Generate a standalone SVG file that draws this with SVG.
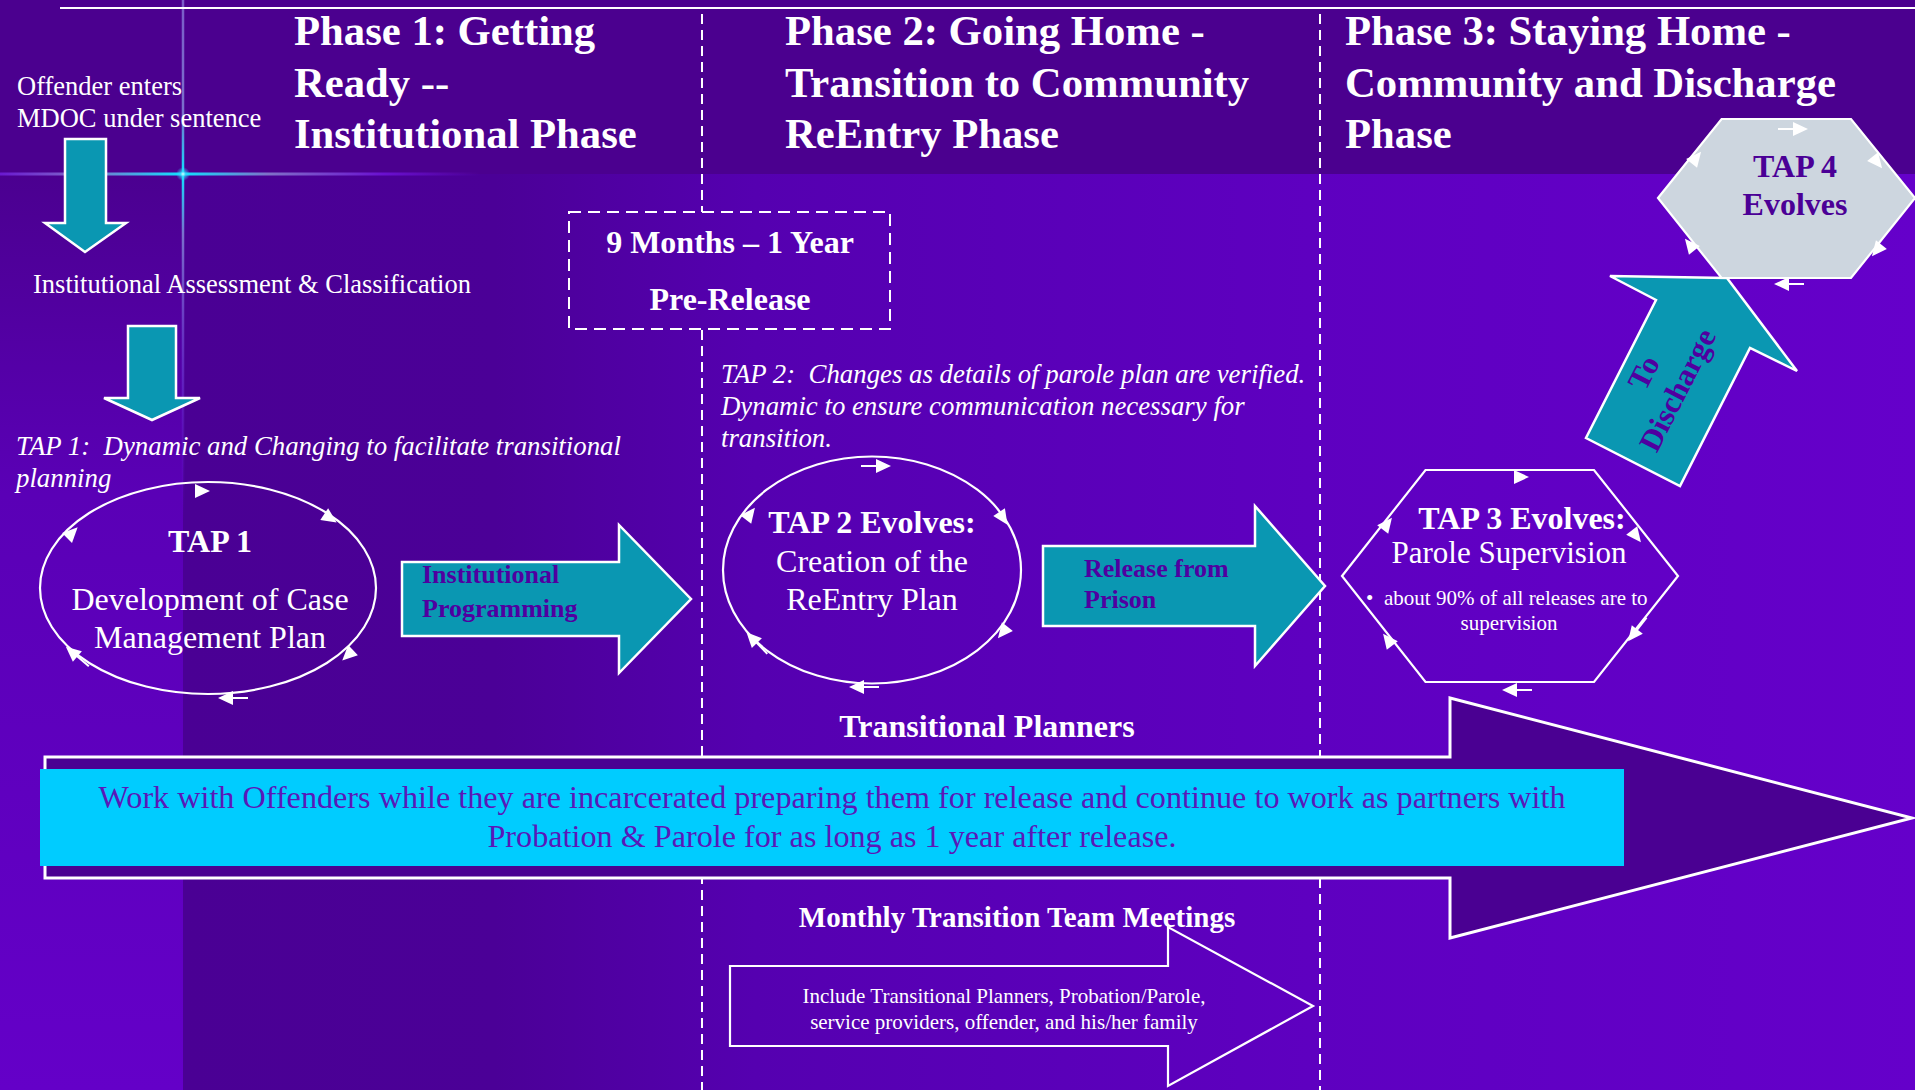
<svg xmlns="http://www.w3.org/2000/svg" xmlns:xlink="http://www.w3.org/1999/xlink" width="1915" height="1090" viewBox="0 0 1915 1090">
  <style>
    .serif { font-family: "Liberation Serif", "Times New Roman", serif; }
    .head { font-size: 42.7px; font-weight: bold; fill: #ffffff; }
    .note { font-size: 26.5px; fill: #ffffff; }
    .ital { font-size: 26.8px; font-style: italic; fill: #ffffff; }
    .ttl { font-size: 32px; font-weight: bold; fill: #ffffff; }
    .body { font-size: 32px; fill: #ffffff; }
    .lbl { font-size: 26px; font-weight: bold; fill: #5000a0; }
    .small { font-size: 21px; fill: #ffffff; }
    .teal { fill: #0a97b2; stroke: #ffffff; stroke-width: 2.5; stroke-linejoin: miter; }
    .ring { fill: none; stroke: #ffffff; stroke-width: 2.2; }
    .dash { stroke: #ffffff; stroke-width: 2; stroke-dasharray: 10 6; fill: none; }
  </style>
  <defs>
    <linearGradient id="bodyGrad" gradientUnits="userSpaceOnUse" x1="183" y1="0" x2="1915" y2="0">
      <stop offset="0" stop-color="#4a0094"/>
      <stop offset="0.18" stop-color="#4b0097"/>
      <stop offset="0.33" stop-color="#5500b0"/>
      <stop offset="0.65" stop-color="#5e00c0"/>
      <stop offset="1" stop-color="#6500ca"/>
    </linearGradient>
    <linearGradient id="stripGrad" gradientUnits="userSpaceOnUse" x1="0" y1="174" x2="0" y2="1090">
      <stop offset="0" stop-color="#4b0090"/>
      <stop offset="0.35" stop-color="#5a00b6"/>
      <stop offset="1" stop-color="#6400c8"/>
    </linearGradient>
    <linearGradient id="flareH" gradientUnits="userSpaceOnUse" x1="0" y1="0" x2="480" y2="0">
      <stop offset="0" stop-color="#6a18d0"/>
      <stop offset="0.18" stop-color="#8070c8"/>
      <stop offset="0.38" stop-color="#10e0ff"/>
      <stop offset="0.56" stop-color="#8070c8"/>
      <stop offset="0.8" stop-color="#6a10d0"/>
      <stop offset="1" stop-color="#6a10d0" stop-opacity="0"/>
    </linearGradient>
    <linearGradient id="flareV" gradientUnits="userSpaceOnUse" x1="0" y1="0" x2="0" y2="520">
      <stop offset="0" stop-color="#7a5cc8"/>
      <stop offset="0.22" stop-color="#7a70cc"/>
      <stop offset="0.335" stop-color="#10e0ff"/>
      <stop offset="0.45" stop-color="#7a70cc"/>
      <stop offset="0.75" stop-color="#6a30d0" stop-opacity="0.6"/>
      <stop offset="1" stop-color="#6010c8" stop-opacity="0"/>
    </linearGradient>
    <radialGradient id="glow">
      <stop offset="0" stop-color="#e0ffff"/>
      <stop offset="0.4" stop-color="#30d8ff" stop-opacity="0.7"/>
      <stop offset="1" stop-color="#30d8ff" stop-opacity="0"/>
    </radialGradient>
    <!-- small cycle arrowheads, pointing along +x -->
    <path id="ah" d="M-7,-7 L8,0 L-7,7 Z" fill="#ffffff"/>
    <g id="aht">
      <path d="M-7,-7 L8,0 L-7,7 Z" fill="#ffffff"/>
      <line x1="-22" y1="0" x2="-4" y2="0" stroke="#ffffff" stroke-width="2"/>
    </g>
  </defs>

  <!-- background -->
  <rect x="0" y="0" width="1915" height="1090" fill="url(#stripGrad)"/>
  <rect x="183" y="173" width="1732" height="917" fill="url(#bodyGrad)"/>
  <rect x="0" y="0" width="1915" height="174" fill="#4b008f"/>
  <line x1="183" y1="0" x2="183" y2="520" stroke="url(#flareV)" stroke-width="2.5"/>
  <line x1="0" y1="174" x2="480" y2="174" stroke="url(#flareH)" stroke-width="3"/>
  <circle cx="183" cy="174" r="7" fill="url(#glow)"/>
  <line x1="60" y1="8" x2="1915" y2="8" stroke="#ffffff" stroke-width="2"/>

  <!-- phase separators -->
  <g id="separators">
    <line class="dash" x1="702" y1="14" x2="702" y2="212"/>
    <line class="dash" x1="702" y1="330" x2="702" y2="1090"/>
    <line class="dash" x1="1320" y1="14" x2="1320" y2="1090"/>
  </g>

  <!-- phase headings -->
  <g id="phase1" class="serif head">
    <text x="294" y="45">Phase 1: Getting</text>
    <text x="294" y="97">Ready --</text>
    <text x="294" y="148">Institutional Phase</text>
  </g>
  <g id="phase2" class="serif head">
    <text x="785" y="45">Phase 2: Going Home -</text>
    <text x="785" y="97">Transition to Community</text>
    <text x="785" y="148">ReEntry Phase</text>
  </g>
  <g id="phase3" class="serif head">
    <text x="1345" y="45">Phase 3: Staying Home -</text>
    <text x="1345" y="97">Community and Discharge</text>
    <text x="1345" y="148">Phase</text>
  </g>

  <!-- intake -->
  <g id="intake" class="serif note">
    <text x="17" y="95">Offender enters</text>
    <text x="17" y="127">MDOC under sentence</text>
  </g>
  <g id="assessment" class="serif note">
    <text x="33" y="293">Institutional Assessment &amp; Classification</text>
  </g>

  <!-- pre-release window -->
  <g id="prerelease">
    <rect x="569" y="212" width="321" height="117" fill="none" stroke="#ffffff" stroke-width="2" stroke-dasharray="12 7"/>
    <text class="serif ttl" x="730" y="253" text-anchor="middle">9 Months – 1 Year</text>
    <text class="serif ttl" x="730" y="310" text-anchor="middle">Pre-Release</text>
  </g>

  <!-- notes -->
  <g id="tap1-note" class="serif ital">
    <text x="16" y="455">TAP 1:&#160; Dynamic and Changing to facilitate transitional</text>
    <text x="16" y="487">planning</text>
  </g>
  <g id="tap2-note" class="serif ital">
    <text x="721" y="383">TAP 2:&#160; Changes as details of parole plan are verified.</text>
    <text x="721" y="415">Dynamic to ensure communication necessary for</text>
    <text x="721" y="447">transition.</text>
  </g>

  <!-- TAP 1 -->
  <g id="tap1">
    <ellipse class="ring" cx="208" cy="588" rx="168" ry="106"/>
    <use xlink:href="#ah" transform="translate(202,491)"/>
    <use xlink:href="#ah" transform="translate(330,518) rotate(34)"/>
    <use xlink:href="#ah" transform="translate(348,655) rotate(136)"/>
    <use xlink:href="#aht" transform="translate(226,698) rotate(180)"/>
    <use xlink:href="#aht" transform="translate(72,652) rotate(220)"/>
    <use xlink:href="#ah" transform="translate(72,533) rotate(-45)"/>
    <text class="serif ttl" x="210" y="552" text-anchor="middle">TAP 1</text>
    <text class="serif body" x="210" y="610" text-anchor="middle">Development of Case</text>
    <text class="serif body" x="210" y="648" text-anchor="middle">Management Plan</text>
  </g>

  <!-- TAP 2 -->
  <g id="tap2">
    <ellipse class="ring" cx="872" cy="570" rx="149" ry="113.5"/>
    <use xlink:href="#aht" transform="translate(883,466)"/>
    <use xlink:href="#ah" transform="translate(1003,518) rotate(56)"/>
    <use xlink:href="#ah" transform="translate(1003,632) rotate(129)"/>
    <use xlink:href="#aht" transform="translate(857,687) rotate(180)"/>
    <use xlink:href="#aht" transform="translate(752,638) rotate(226)"/>
    <use xlink:href="#ah" transform="translate(750,514) rotate(-52)"/>
    <text class="serif ttl" x="872" y="533" text-anchor="middle">TAP 2 Evolves:</text>
    <text class="serif body" x="872" y="572" text-anchor="middle">Creation of the</text>
    <text class="serif body" x="872" y="610" text-anchor="middle">ReEntry Plan</text>
  </g>

  <!-- TAP 3 -->
  <g id="tap3">
    <polygon class="ring" points="1342,576 1425.5,470 1594,470 1678,576 1594,682 1425.5,682"/>
    <use xlink:href="#ah" transform="translate(1521,477)"/>
    <use xlink:href="#ah" transform="translate(1636,536) rotate(52)"/>
    <use xlink:href="#aht" transform="translate(1633,635) rotate(128)"/>
    <use xlink:href="#aht" transform="translate(1510,690) rotate(180)"/>
    <use xlink:href="#ah" transform="translate(1388,640) rotate(232)"/>
    <use xlink:href="#ah" transform="translate(1387,524) rotate(-52)"/>
    <text class="serif ttl" x="1522" y="529" text-anchor="middle">TAP 3 Evolves:</text>
    <text class="serif body" x="1509" y="563" text-anchor="middle" style="font-size:31px">Parole Supervision</text>
    <text class="serif small" x="1366" y="605">•</text>
    <text class="serif small" x="1384" y="605">about 90% of all releases are to</text>
    <text class="serif small" x="1509" y="630" text-anchor="middle">supervision</text>
  </g>

  <!-- connectors -->
  <g id="connectors">
    <polygon class="teal" points="65,139 106,139 106,223 126,223 85,252 45,223 65,223"/>
    <polygon class="teal" points="128,326 176,326 176,398 200,398 152,420 104,398 128,398"/>
    <g id="programming">
      <polygon class="teal" points="402,562 619,562 619,525 691,599 619,673 619,636 402,636"/>
      <text class="serif lbl" x="422" y="583">Institutional</text>
      <text class="serif lbl" x="422" y="617">Programming</text>
    </g>
    <g id="release">
      <polygon class="teal" points="1043,546 1255,546 1255,506 1325,586 1255,666 1255,626 1043,626"/>
      <text class="serif lbl" x="1084" y="577">Release from</text>
      <text class="serif lbl" x="1084" y="608">Prison</text>
    </g>
    <g id="discharge">
      <polygon class="teal" points="1727,278 1797,371 1750,348 1680,486 1586,438 1656,300 1610,276"/>
      <g transform="translate(1660,381) rotate(-63)">
        <text class="serif lbl" x="0" y="-8" text-anchor="middle" style="font-size:31px">To</text>
        <text class="serif lbl" x="0" y="30" text-anchor="middle" style="font-size:31px">Discharge</text>
      </g>
    </g>
  </g>

  <!-- TAP 4 -->
  <g id="tap4">
    <polygon points="1658,198 1721.6,119 1851,119 1915,198 1851,278 1721.6,278" fill="#cdd6df" stroke="#ffffff" stroke-width="2.2"/>
    <use xlink:href="#aht" transform="translate(1800,129)"/>
    <use xlink:href="#ah" transform="translate(1877,162) rotate(51)"/>
    <use xlink:href="#ah" transform="translate(1877,250) rotate(129)"/>
    <use xlink:href="#aht" transform="translate(1782,284) rotate(180)"/>
    <use xlink:href="#ah" transform="translate(1690,245) rotate(231)"/>
    <use xlink:href="#ah" transform="translate(1696,158) rotate(-51)"/>
    <text class="serif ttl" x="1795" y="177" text-anchor="middle" style="fill:#4b0096">TAP 4</text>
    <text class="serif ttl" x="1795" y="215" text-anchor="middle" style="fill:#4b0096">Evolves</text>
  </g>

  <!-- transitional planners band -->
  <g id="planners">
    <text class="serif ttl" x="987" y="737" text-anchor="middle">Transitional Planners</text>
    <polygon points="45,757 1450,757 1450,698 1912,818 1450,938 1450,878 45,878" fill="#4a0092" stroke="#ffffff" stroke-width="3"/>
    <rect x="40" y="769" width="1584" height="97" fill="#00ccff"/>
    <text class="serif" x="832" y="808" text-anchor="middle" style="font-size:32.2px;fill:#5a18b8">Work with Offenders while they are incarcerated preparing them for release and continue to work as partners with</text>
    <text class="serif" x="832" y="847" text-anchor="middle" style="font-size:32.2px;fill:#5a18b8">Probation &amp; Parole for as long as 1 year after release.</text>
  </g>

  <!-- monthly meetings -->
  <g id="meetings">
    <polygon points="730,966 1168,966 1168,927 1313,1006 1168,1086 1168,1046 730,1046" fill="none" stroke="#ffffff" stroke-width="2.2"/>
    <text class="serif" x="1017" y="927" text-anchor="middle" style="font-size:29px;font-weight:bold;fill:#ffffff">Monthly Transition Team Meetings</text>
    <text class="serif small" x="1004" y="1003" text-anchor="middle">Include Transitional Planners, Probation/Parole,</text>
    <text class="serif small" x="1004" y="1029" text-anchor="middle">service providers, offender, and his/her family</text>
  </g>
</svg>
